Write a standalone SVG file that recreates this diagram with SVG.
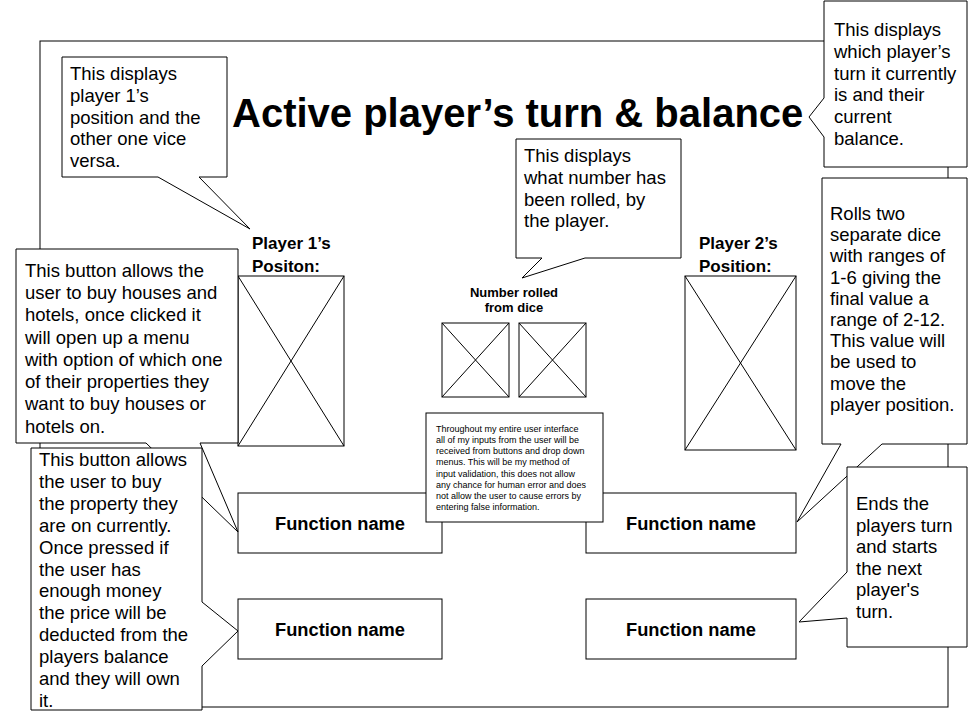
<svg xmlns="http://www.w3.org/2000/svg" width="975" height="727" viewBox="0 0 975 727">
<style>
.ln{fill:none;stroke:#000;stroke-width:1}
.bx{fill:#fff;stroke:#000;stroke-width:1}
.co{fill:#fff;stroke:#000;stroke-width:1;stroke-linejoin:miter}
.t{font-family:"Liberation Sans",Arial,sans-serif;fill:#000}
.ct{font-size:18.5px}
.b{font-weight:bold}
.sm{font-size:9px}
</style>
<rect width="975" height="727" fill="#fff"/>
<g id="frame"><rect class="ln" x="40" y="41" width="908" height="666"/></g>
<g id="title"><text class="t b" x="232" y="127" font-size="40">Active player’s turn &amp; balance</text></g>
<g id="player1">
<text class="t b" x="252" y="249" font-size="17">Player 1’s</text>
<text class="t b" x="252" y="272" font-size="17">Positon:</text>
<rect class="bx" x="238" y="276" width="106" height="170"/>
<path class="ln" d="M238,276 L344,446 M344,276 L238,446"/>
</g>
<g id="player2">
<text class="t b" x="699" y="249" font-size="17">Player 2’s</text>
<text class="t b" x="699" y="272" font-size="17">Position:</text>
<rect class="bx" x="685" y="276" width="111" height="174"/>
<path class="ln" d="M685,276 L796,450 M796,276 L685,450"/>
</g>
<g id="dice">
<text class="t b" x="514" y="297" font-size="13" text-anchor="middle">Number rolled</text>
<text class="t b" x="514" y="312" font-size="13" text-anchor="middle">from dice</text>
<rect class="bx" x="442" y="323" width="67" height="74"/>
<path class="ln" d="M442,323 L509,397 M509,323 L442,397"/>
<rect class="bx" x="519" y="323" width="67" height="74"/>
<path class="ln" d="M519,323 L586,397 M586,323 L519,397"/>
</g>
<g id="fn1"><rect class="bx" x="238" y="493" width="204" height="60"/><text class="t b" x="340" y="530" font-size="18.3" text-anchor="middle">Function name</text></g>
<g id="fn2"><rect class="bx" x="238" y="599" width="204" height="60"/><text class="t b" x="340" y="636" font-size="18.3" text-anchor="middle">Function name</text></g>
<g id="fn3"><rect class="bx" x="586" y="493" width="210" height="60"/><text class="t b" x="691" y="530" font-size="18.3" text-anchor="middle">Function name</text></g>
<g id="fn4"><rect class="bx" x="586" y="599" width="210" height="60"/><text class="t b" x="691" y="636" font-size="18.3" text-anchor="middle">Function name</text></g>
<g id="note-validation">
<rect class="bx" x="426" y="413" width="177" height="109"/>
<text class="t sm" x="436" y="432">Throughout my entire user interface</text>
<text class="t sm" x="436" y="443">all of my inputs from the user will be</text>
<text class="t sm" x="436" y="454">received from buttons and drop down</text>
<text class="t sm" x="436" y="465">menus. This will be my method of</text>
<text class="t sm" x="436" y="477">input validation, this does not allow</text>
<text class="t sm" x="436" y="488">any chance for human error and does</text>
<text class="t sm" x="436" y="499">not allow the user to cause errors by</text>
<text class="t sm" x="436" y="510">entering false information.</text>
</g>
<g id="callout-p1">
<path class="co" d="M62,57 H227 V177 H199 L250,229 L158,177 H62 Z"/>
<text class="t ct" x="70" y="80">This displays</text>
<text class="t ct" x="70" y="102">player 1’s</text>
<text class="t ct" x="70" y="124">position and the</text>
<text class="t ct" x="70" y="145">other one vice</text>
<text class="t ct" x="70" y="167">versa.</text>
</g>
<g id="callout-turn">
<path class="co" d="M824,1 H967 V167 H824 V137 L809,117 L824,98 Z"/>
<text class="t ct" x="834" y="36">This displays</text>
<text class="t ct" x="834" y="58">which player’s</text>
<text class="t ct" x="834" y="80">turn it currently</text>
<text class="t ct" x="834" y="101">is and their</text>
<text class="t ct" x="834" y="123">current</text>
<text class="t ct" x="834" y="145">balance.</text>
</g>
<g id="callout-dice">
<path class="co" d="M516,139 H681 V258 H585 L522,278 L542,258 H516 Z"/>
<text class="t ct" x="524" y="162">This displays</text>
<text class="t ct" x="524" y="184">what number has</text>
<text class="t ct" x="524" y="206">been rolled, by</text>
<text class="t ct" x="524" y="227">the player.</text>
</g>
<g id="callout-houses">
<path class="co" d="M16,249 H238 V443 H200 L238,532 L146,443 H16 Z"/>
<text class="t ct" x="25" y="277">This button allows the</text>
<text class="t ct" x="25" y="299">user to buy houses and</text>
<text class="t ct" x="25" y="321">hotels, once clicked it</text>
<text class="t ct" x="25" y="344">will open up a menu</text>
<text class="t ct" x="25" y="366">with option of which one</text>
<text class="t ct" x="25" y="388">of their properties they</text>
<text class="t ct" x="25" y="410">want to buy houses or</text>
<text class="t ct" x="25" y="433">hotels on.</text>
</g>
<g id="callout-buy">
<path class="co" d="M31,448 H202 V602 L238,631 L202,666 V710 H31 Z"/>
<text class="t ct" x="39" y="466">This button allows</text>
<text class="t ct" x="39" y="488">the user to buy</text>
<text class="t ct" x="39" y="510">the property they</text>
<text class="t ct" x="39" y="532">are on currently.</text>
<text class="t ct" x="39" y="554">Once pressed if</text>
<text class="t ct" x="39" y="576">the user has</text>
<text class="t ct" x="39" y="597">enough money</text>
<text class="t ct" x="39" y="619">the price will be</text>
<text class="t ct" x="39" y="641">deducted from the</text>
<text class="t ct" x="39" y="663">players balance</text>
<text class="t ct" x="39" y="685">and they will own</text>
<text class="t ct" x="39" y="707">it.</text>
</g>
<g id="callout-roll">
<path class="co" d="M822,178 H967 V444 H882 L797,522 L841,444 H822 Z"/>
<text class="t ct" x="830" y="220">Rolls two</text>
<text class="t ct" x="830" y="241">separate dice</text>
<text class="t ct" x="830" y="262">with ranges of</text>
<text class="t ct" x="830" y="284">1-6 giving the</text>
<text class="t ct" x="830" y="305">final value a</text>
<text class="t ct" x="830" y="326">range of 2-12.</text>
<text class="t ct" x="830" y="347">This value will</text>
<text class="t ct" x="830" y="368">be used to</text>
<text class="t ct" x="830" y="390">move the</text>
<text class="t ct" x="830" y="411">player position.</text>
</g>
<g id="callout-end">
<path class="co" d="M847,467 H967 V647 H847 V618 L799,622 L847,572 Z"/>
<text class="t ct" x="856" y="510">Ends the</text>
<text class="t ct" x="856" y="532">players turn</text>
<text class="t ct" x="856" y="553">and starts</text>
<text class="t ct" x="856" y="575">the next</text>
<text class="t ct" x="856" y="596">player's</text>
<text class="t ct" x="856" y="618">turn.</text>
</g>
</svg>
